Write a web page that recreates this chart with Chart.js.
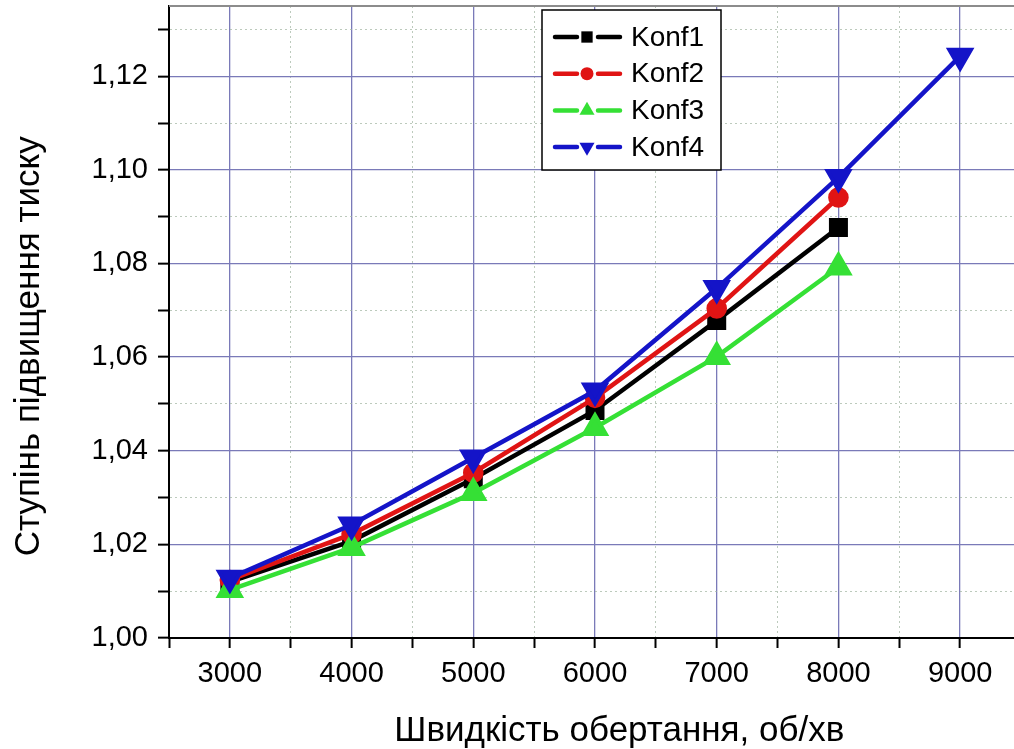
<!DOCTYPE html>
<html>
<head>
<meta charset="utf-8">
<script src="https://cdn.jsdelivr.net/npm/chart.js@4.4.0/dist/chart.umd.min.js"></script>
<style>
  html, body { margin: 0; padding: 0; background: #fff; overflow: hidden; }
  #wrap { width: 1014px; height: 749px; overflow: hidden; }
</style>
</head>
<body>
<div id="wrap"><canvas id="pressureChart" width="1030" height="749"></canvas></div>
<script>
// rotation speed, rpm
const rpm = [3000, 4000, 5000, 6000, 7000, 8000, 9000];
// pressure ratio per configuration
const konf1 = [1.0120, 1.0207, 1.0340, 1.0486, 1.0678, 1.0877];
const konf2 = [1.0124, 1.0222, 1.0353, 1.0513, 1.0704, 1.0941];
const konf3 = [1.0103, 1.0193, 1.0310, 1.0449, 1.0601, 1.0792];
const konf4 = [1.0128, 1.0242, 1.0385, 1.0528, 1.0747, 1.0984, 1.1243];
const seriesNames = ["Konf1", "Konf2", "Konf3", "Konf4"];

const FONT = "'Liberation Sans', Arial, sans-serif";
Chart.defaults.font.family = FONT;
Chart.defaults.color = "#000";

function toPoints(values) {
    return values.map((v, i) => ({ x: rpm[i], y: v }));
}

function isMajorX(v) { return Math.abs(v % 1000) < 1e-6; }
function isMajorY(v) {
    const h = v * 100;
    return Math.abs(h - Math.round(h)) < 1e-6 && Math.round(h) % 2 === 0;
}

// small marker drawer for the legend box
function drawMarker(ctx, style, rotation, r, x, y) {
    ctx.beginPath();
    if (style === "rect") {
        const s = r * Math.SQRT1_2;
        ctx.rect(x - s, y - s, 2 * s, 2 * s);
    } else if (style === "circle") {
        ctx.arc(x, y, r, 0, Math.PI * 2);
    } else {
        let rad = rotation * Math.PI / 180;
        ctx.moveTo(x + Math.sin(rad) * r, y - Math.cos(rad) * r);
        rad += 2 * Math.PI / 3;
        ctx.lineTo(x + Math.sin(rad) * r, y - Math.cos(rad) * r);
        rad += 2 * Math.PI / 3;
        ctx.lineTo(x + Math.sin(rad) * r, y - Math.cos(rad) * r);
        ctx.closePath();
    }
    ctx.fill();
}

// legend marker sizes (no white rim there)
const legendRadius = { rect: 8, circle: 6.5, triangle: 8.7 };

const frameAndLegend = {
    id: "frameAndLegend",
    afterDraw(chart) {
        const ctx = chart.ctx;
        const area = chart.chartArea;
        ctx.save();
        // grey top frame
        ctx.strokeStyle = "#8c8c8c";
        ctx.lineWidth = 2;
        ctx.beginPath();
        ctx.moveTo(area.left, area.top);
        ctx.lineTo(area.right, area.top);
        ctx.stroke();

        // legend box
        const bx = 542, by = 10, bw = 179, bh = 160;
        ctx.fillStyle = "#fff";
        ctx.fillRect(bx, by, bw, bh);
        ctx.strokeStyle = "#000";
        ctx.lineWidth = 1.5;
        ctx.strokeRect(bx, by, bw, bh);

        chart.data.datasets.forEach((ds, i) => {
            const y = 37 + i * 36.7;
            ctx.strokeStyle = ds.borderColor;
            ctx.fillStyle = ds.borderColor;
            ctx.lineWidth = 4.5;
            ctx.lineCap = "round";
            ctx.beginPath();
            ctx.moveTo(555, y); ctx.lineTo(577, y);
            ctx.moveTo(598, y); ctx.lineTo(620, y);
            ctx.stroke();
            drawMarker(ctx, ds.pointStyle, ds.pointRotation || 0, legendRadius[ds.pointStyle], 587, y);
            ctx.fillStyle = "#000";
            ctx.font = "28px " + FONT;
            ctx.textBaseline = "middle";
            ctx.textAlign = "left";
            ctx.fillText(ds.label, 631, y + 1);
        });
        ctx.restore();
    }
};

const majorGrid = "#7a7ab8";
const minorGrid = "rgba(160,180,160,0.7)";

new Chart(document.getElementById("pressureChart"), {
    type: "line",
    data: {
        datasets: [
            {
                label: seriesNames[0],
                data: toPoints(konf1),
                borderColor: "#000000",
                backgroundColor: "#000000",
                pointStyle: "rect",
                pointRadius: 10.6,
                order: 4
            },
            {
                label: seriesNames[1],
                data: toPoints(konf2),
                borderColor: "#e01414",
                backgroundColor: "#e01414",
                pointStyle: "circle",
                pointRadius: 8.3,
                order: 3
            },
            {
                label: seriesNames[2],
                data: toPoints(konf3),
                borderColor: "#35e035",
                backgroundColor: "#35e035",
                pointStyle: "triangle",
                pointRadius: 12.5,
                order: 2
            },
            {
                label: seriesNames[3],
                data: toPoints(konf4),
                borderColor: "#1414c8",
                backgroundColor: "#1414c8",
                pointStyle: "triangle",
                pointRotation: 180,
                pointRadius: 12.5,
                order: 1
            }
        ]
    },
    options: {
        responsive: false,
        animation: false,
        layout: { autoPadding: false, padding: { top: 6, right: 9, left: 0, bottom: 0 } },
        elements: {
            line: { borderWidth: 4.5, tension: 0 },
            point: { borderWidth: 4, borderColor: "#fff", hoverRadius: 8 }
        },
        plugins: {
            legend: { display: false },
            tooltip: { enabled: false }
        },
        scales: {
            x: {
                type: "linear",
                min: 2500,
                max: 9500,
                afterFit: scale => {
                    scale.height = 111;
                    scale.paddingLeft = 0;
                    scale.paddingRight = 0;
                },
                ticks: {
                    stepSize: 500,
                    autoSkip: false,
                    maxRotation: 0,
                    includeBounds: false,
                    padding: 9,
                    font: { size: 29 },
                    callback: v => isMajorX(v) ? String(v) : ""
                },
                grid: {
                    color: c => c.tick && isMajorX(c.tick.value) ? majorGrid : minorGrid,
                    lineWidth: c => c.tick && isMajorX(c.tick.value) ? 1.3 : 1,
                    tickColor: "#000",
                    tickLength: 10,
                    tickWidth: 2
                },
                border: {
                    color: "#000",
                    width: 2,
                    dash: c => c.tick && !isMajorX(c.tick.value) ? [2, 3] : []
                },
                title: {
                    display: true,
                    text: "\u00a0\u00a0\u00a0\u00a0\u00a0Швидкість обертання, об/хв",
                    font: { size: 35, lineHeight: 1 },
                    padding: { top: 0, bottom: 0 }
                }
            },
            y: {
                min: 1.0,
                max: 1.135,
                afterFit: scale => {
                    scale.width = 169;
                    scale.paddingTop = 0;
                    scale.paddingBottom = 0;
                },
                ticks: {
                    stepSize: 0.01,
                    autoSkip: false,
                    includeBounds: false,
                    padding: 10,
                    font: { size: 29 },
                    callback: v => isMajorY(v) ? v.toFixed(2).replace(".", ",") : ""
                },
                grid: {
                    color: c => c.tick && isMajorY(c.tick.value) ? majorGrid : minorGrid,
                    lineWidth: c => c.tick && isMajorY(c.tick.value) ? 1.3 : 1,
                    tickColor: "#000",
                    tickLength: 11,
                    tickWidth: 2
                },
                border: {
                    color: "#000",
                    width: 2,
                    dash: c => c.tick && !isMajorY(c.tick.value) ? [2, 3] : []
                },
                title: {
                    display: true,
                    text: "Ступінь підвищення тиску\u00a0\u00a0\u00a0\u00a0\u00a0",
                    font: { size: 35, lineHeight: 1.1 },
                    padding: { top: 10, bottom: 0 }
                }
            }
        }
    },
    plugins: [frameAndLegend]
});
</script>
</body>
</html>
